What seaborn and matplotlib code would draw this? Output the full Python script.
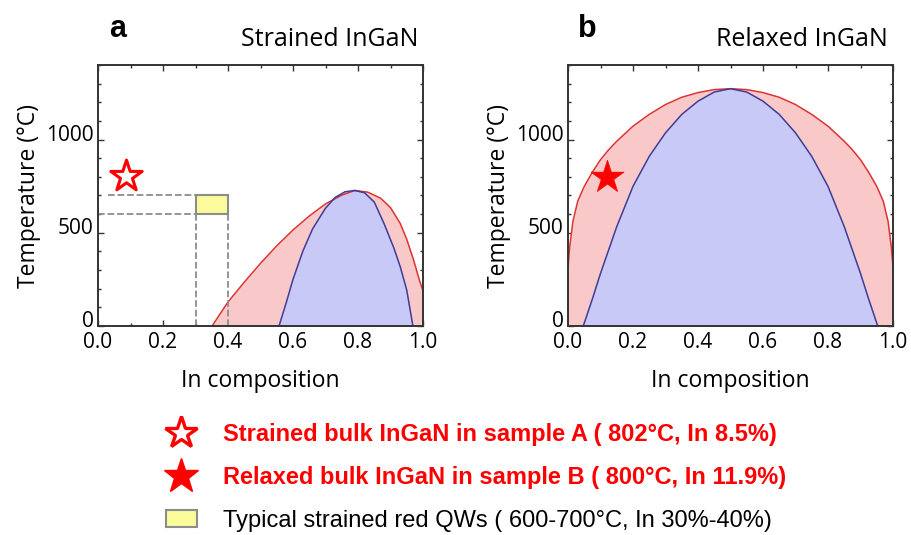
import matplotlib
matplotlib.use("Agg")
import matplotlib.pyplot as plt
from matplotlib.lines import Line2D
from matplotlib.patches import Patch, Rectangle
from matplotlib.ticker import MultipleLocator
from matplotlib.transforms import ScaledTranslation
import seaborn as sns

# ----- DATA -----
# panel a : strained InGaN, binodal (red) and spinodal (blue)
strained_bin_x = [0.351, 0.37, 0.40, 0.45, 0.50, 0.55, 0.60, 0.65, 0.70, 0.75,
                  0.79, 0.83, 0.87, 0.90, 0.93, 0.95, 0.97, 0.99, 1.00]
strained_bin_T = [0, 50, 129, 235, 336, 430, 515, 590, 655, 702,
                  727, 718, 685, 635, 550, 465, 360, 240, 190]
strained_spin_x = [0.557, 0.58, 0.60, 0.63, 0.66, 0.70, 0.73, 0.76, 0.79,
                   0.82, 0.85, 0.88, 0.91, 0.93, 0.95, 0.969]
strained_spin_T = [0, 130, 250, 400, 520, 632, 690, 720, 727,
                   715, 665, 550, 420, 318, 192, 0]

# panel b : relaxed InGaN
relaxed_bin_x = [0.00, 0.005, 0.015, 0.03, 0.05, 0.075, 0.10, 0.125, 0.15, 0.20,
                 0.25, 0.30, 0.35, 0.40, 0.45, 0.50, 0.55, 0.60, 0.65, 0.70,
                 0.75, 0.80, 0.85, 0.875, 0.90, 0.925, 0.95, 0.97, 0.985, 0.995, 1.00]
relaxed_bin_T = [310, 420, 560, 670, 749, 825, 892, 945, 991, 1072,
                 1135, 1188, 1227, 1252, 1268, 1273, 1268, 1252, 1227, 1188,
                 1135, 1072, 991, 945, 892, 825, 749, 670, 560, 420, 318]
relaxed_spin_x = [0.047, 0.075, 0.10, 0.15, 0.20, 0.25, 0.30, 0.35, 0.40, 0.45, 0.50,
                  0.55, 0.60, 0.65, 0.70, 0.75, 0.80, 0.85, 0.90, 0.925, 0.953]
relaxed_spin_T = [0, 145, 282, 533, 749, 910, 1036, 1135, 1206, 1255, 1273,
                  1255, 1206, 1135, 1036, 910, 749, 533, 282, 145, 0]

# samples and typical QW window
sample_a = (0.085, 802)   # strained bulk InGaN, sample A
sample_b = (0.119, 800)   # relaxed bulk InGaN, sample B
qw_x = [0.30, 0.40]
qw_T = [600, 700]

panel_titles = ["Strained InGaN", "Relaxed InGaN"]
panel_letters = ["a", "b"]
legend_labels = ["Strained bulk InGaN in sample A ( 802\u00b0C, In 8.5%)",
                 "Relaxed bulk InGaN in sample B ( 800\u00b0C, In 11.9%)",
                 "Typical strained red QWs ( 600-700\u00b0C, In 30%-40%)"]

# ----- STYLE -----
sns.set_theme(style="ticks")
plt.rcParams["font.family"] = ["Open Sans", "DejaVu Sans"]
plt.rcParams["text.color"] = "black"
plt.rcParams["axes.labelcolor"] = "black"

RED_LINE = "#dd3333"
RED_FILL = "#f9c8c8"
BLUE_LINE = "#3d3d99"
BLUE_FILL = "#c9c9f8"
GREY = "#8c8c8c"
YELLOW = "#fbfb9c"

W, H = 911, 535
fig = plt.figure(figsize=(W / 100, H / 100), dpi=100)
ax_a = fig.add_axes([98 / W, 1 - 326 / H, 325 / W, 261 / H])
ax_b = fig.add_axes([568 / W, 1 - 326 / H, 325 / W, 261 / H])


def draw_dome(ax, bx, bT, sx, sT):
    ax.fill_between(bx, bT, 0, color=RED_FILL, lw=0)
    ax.fill_between(sx, sT, 0, color=BLUE_FILL, lw=0)
    sns.lineplot(x=bx, y=bT, ax=ax, color=RED_LINE, lw=1.1, sort=False)
    sns.lineplot(x=sx, y=sT, ax=ax, color=BLUE_LINE, lw=1.1, sort=False)


def style_axes(ax, title, letter):
    ax.set_xlim(0, 1.0)
    ax.set_ylim(0, 1400)
    ax.xaxis.set_major_locator(MultipleLocator(0.2))
    ax.xaxis.set_minor_locator(MultipleLocator(0.1))
    ax.yaxis.set_major_locator(MultipleLocator(500))
    ax.yaxis.set_minor_locator(MultipleLocator(100))
    ax.tick_params(which="both", direction="in", top=True, right=True,
                   color="#333333", width=1.0, labelsize=15, labelcolor="black")
    ax.tick_params(which="major", length=4)
    ax.tick_params(which="minor", length=2.5)
    ax.tick_params(axis="x", which="major", pad=4)
    ax.tick_params(axis="y", which="major", pad=3)
    ax.set_yticks([0, 500, 1000])
    ax.set_xticklabels([f"{v:.1f}" for v in ax.get_xticks()])
    for spine in ax.spines.values():
        spine.set_color("#333333")
        spine.set_linewidth(1.4)
    ax.set_xlabel("In composition", fontsize=16.5, labelpad=12)
    ax.set_ylabel("Temperature (\u00b0C)", fontsize=16.5, labelpad=4)
    # y labels sit a little above their ticks in the original
    shift = ScaledTranslation(0, 7 / 100, fig.dpi_scale_trans)
    for lab in ax.get_yticklabels():
        lab.set_transform(lab.get_transform() + shift)
    ax.text(0.985, 1.05, title, transform=ax.transAxes, ha="right", va="bottom",
            fontsize=18)
    ax.text(0.06, 1.08, letter, transform=ax.transAxes, ha="center", va="bottom",
            fontsize=22, fontweight="bold", family=["Liberation Sans", "DejaVu Sans"])


# ----- PANEL a -----
draw_dome(ax_a, strained_bin_x, strained_bin_T, strained_spin_x, strained_spin_T)
ax_a.plot([0.03, qw_x[0]], [qw_T[1], qw_T[1]], ls="--", color=GREY, lw=1.3)
ax_a.plot([0.0, qw_x[0]], [qw_T[0], qw_T[0]], ls="--", color=GREY, lw=1.3)
for xv in qw_x:
    ax_a.plot([xv, xv], [0, qw_T[0]], ls="--", color=GREY, lw=1.3)
ax_a.add_patch(Rectangle((qw_x[0], qw_T[0]), qw_x[1] - qw_x[0], qw_T[1] - qw_T[0],
                         facecolor=YELLOW, edgecolor=GREY, lw=1.5, zorder=3))
sns.scatterplot(x=[sample_a[0]], y=[sample_a[1]], ax=ax_a, marker="*", s=560,
                color="white", edgecolor="red", linewidth=2.2, zorder=5, legend=False,
                clip_on=False)
style_axes(ax_a, panel_titles[0], panel_letters[0])

# ----- PANEL b -----
draw_dome(ax_b, relaxed_bin_x, relaxed_bin_T, relaxed_spin_x, relaxed_spin_T)
sns.scatterplot(x=[sample_b[0]], y=[sample_b[1]], ax=ax_b, marker="*", s=620,
                color="red", edgecolor="red", linewidth=0.5, zorder=5, legend=False)
style_axes(ax_b, panel_titles[1], panel_letters[1])

# ----- LEGEND -----
handles = [
    Line2D([], [], ls="none", marker="*", ms=24, mfc="white", mec="red", mew=2.4),
    Line2D([], [], ls="none", marker="*", ms=26, mfc="red", mec="red"),
    Patch(facecolor=YELLOW, edgecolor=GREY, lw=1.5),
]
leg = fig.legend(handles, legend_labels, loc="upper left",
                 bbox_to_anchor=(166 / W, 1 - 423 / H), frameon=False,
                 borderpad=0, borderaxespad=0, handlelength=1.3, handleheight=0.75,
                 handletextpad=1.1, labelspacing=0.86,
                 prop={"family": ["Liberation Sans Narrow", "Liberation Sans"],
                       "size": 17})
for txt, col, wt in zip(leg.get_texts(), ["red", "red", "black"],
                        ["bold", "bold", "normal"]):
    txt.set_color(col)
    txt.set_fontweight(wt)

fig.savefig("out.png", dpi=100)
